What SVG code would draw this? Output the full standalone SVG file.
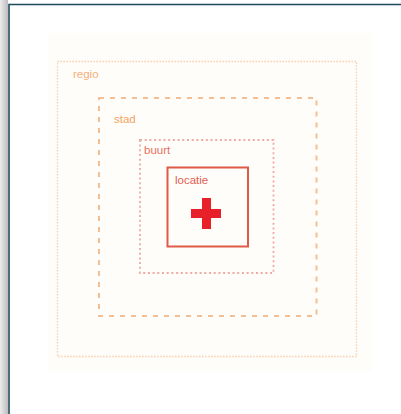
<svg xmlns="http://www.w3.org/2000/svg" width="401" height="414" viewBox="0 0 401 414">
<defs>
<linearGradient id="side" x1="0" y1="0" x2="1" y2="0">
<stop offset="0" stop-color="#ececec"/>
<stop offset="1" stop-color="#bdbdbd"/>
</linearGradient>
<style>
.lbl{font-family:"Liberation Sans",Arial,sans-serif;font-size:11.5px}
.box{fill:none}
</style>
</defs>
<rect x="0" y="0" width="401" height="414" fill="#ffffff"/>
<rect x="0" y="0" width="8" height="414" fill="url(#side)"/>
<path d="M9 414V4.5H401" fill="none" stroke="#1f4a60" stroke-width="1.6"/>
<rect x="48" y="33" width="324" height="338" fill="#fffdf9"/>
<g id="regio">
<rect class="box" x="57.5" y="61.5" width="299" height="295" stroke="#f6c8a4" stroke-width="1.4" stroke-dasharray="1.3 1.7"/>
<text class="lbl" x="73" y="78" fill="#f3b07c">regio</text>
</g>
<g id="stad">
<rect class="box" x="99" y="98" width="217.5" height="218" stroke="#f5bf94" stroke-width="2" stroke-dasharray="5 6"/>
<text class="lbl" x="114" y="123" fill="#f0a466">stad</text>
</g>
<g id="buurt">
<rect class="box" x="140" y="140" width="133.5" height="133" stroke="#eeaaa4" stroke-width="1.8" stroke-dasharray="2 2.7"/>
<text class="lbl" x="144" y="154" fill="#e4715f">buurt</text>
</g>
<g id="locatie">
<rect class="box" x="167.5" y="167.5" width="80.5" height="79" stroke="#e05a48" stroke-width="2"/>
<text class="lbl" x="175" y="184" fill="#e06050">locatie</text>
<path d="M202 198h9v11h10v9h-10v11h-9v-11h-11v-9h11z" fill="#e8202a"/>
</g>
<g id="connectors"/>
</svg>
